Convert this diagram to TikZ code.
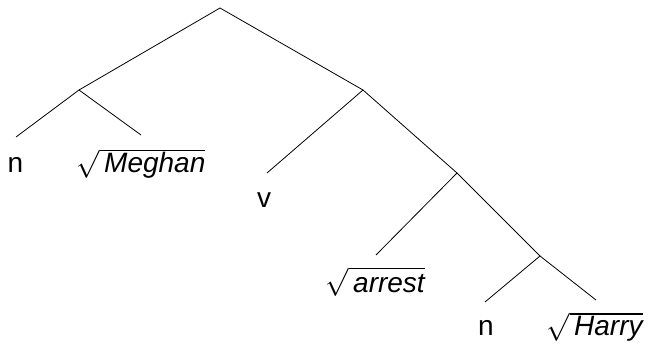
\RequirePackage{fix-cm}
\documentclass[tikz,border=0pt]{standalone}
\usepackage{fontspec}
\setmainfont{Liberation Sans}
\begin{document}
\begin{tikzpicture}[x=1pt,y=-1pt,
  branch/.style={draw=black,line width=0.8pt},
  leaf/.style={inner sep=0pt,font=\fontsize{28}{32}\selectfont},
  rootleaf/.style={leaf,anchor=base west}]
\useasboundingbox (0,0) rectangle (648,345);
% internal nodes of the tree
\coordinate (root) at (220,8);
\coordinate (dp)   at (79,90);
\coordinate (vp)   at (363,90);
\coordinate (rp)   at (457,173);
\coordinate (np)   at (540,256);
% branch ends above the labels
\coordinate (dpL) at (16,137);
\coordinate (dpR) at (141,135);
\coordinate (vpL) at (267,173);
\coordinate (rpL) at (376,255);
\coordinate (npL) at (485,302);
\coordinate (npR) at (596,300);
% branches
\draw[branch] (root) -- (dp);
\draw[branch] (root) -- (vp);
\draw[branch] (dp) -- (dpL);
\draw[branch] (dp) -- (dpR);
\draw[branch] (vp) -- (vpL);
\draw[branch] (vp) -- (rp);
\draw[branch] (rp) -- (rpL);
\draw[branch] (rp) -- (np);
\draw[branch] (np) -- (npL);
\draw[branch] (np) -- (npR);
% labels
\node[leaf,anchor=base] (n1) at (15.5,172) {n};
\node[rootleaf] (meghan) at (76,172) {$\sqrt{\,\mbox{\itshape Meghan}}$};
\node[leaf,anchor=base] (v) at (264,207) {v};
\node[rootleaf] (arrest) at (325,292) {$\sqrt{\,\mbox{\itshape arrest}}$};
\node[leaf,anchor=base] (n2) at (486,335) {n};
\node[rootleaf] (harry) at (546,335) {$\sqrt{\,\mbox{\itshape Harry}}$};
\end{tikzpicture}
\end{document}
